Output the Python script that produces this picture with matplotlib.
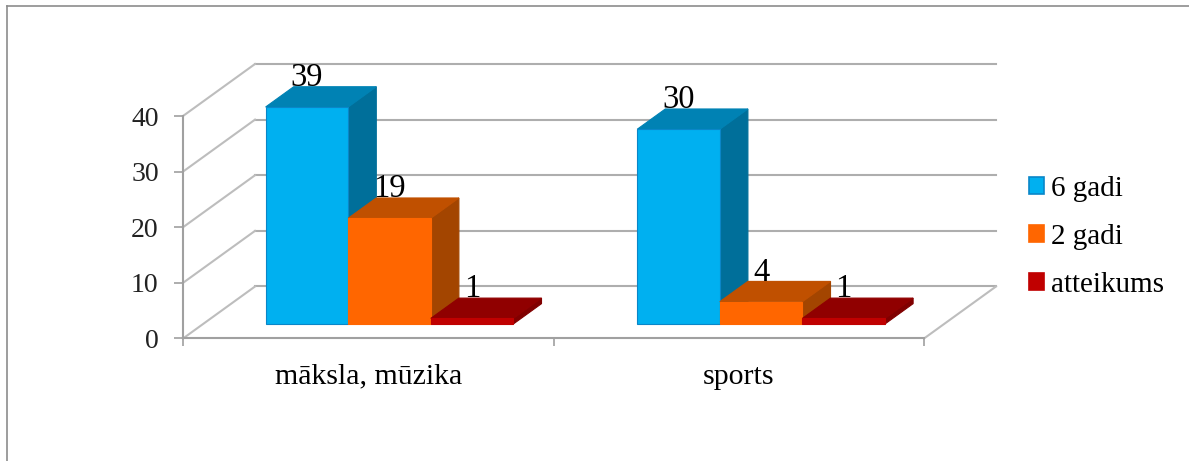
import matplotlib
matplotlib.use("Agg")
import matplotlib.pyplot as plt
from matplotlib.lines import Line2D
from matplotlib.patches import Patch

categories = ['māksla, mūzika', 'sports']
series_names = ['6 gadi', '2 gadi', 'atteikums']
# bar heights as drawn; the sports bar of 6 gadi is taller than its label says
vals_6 = [39, 35]
vals_2 = [19, 4]
vals_a = [1, 1]
labels_6 = ['39', '30']
labels_2 = ['19', '4']
labels_a = ['1', '1']
y_ticks = [0, 10, 20, 30, 40]

# front, top, side, edge
col_6 = ['#00B0F0', '#0082B4', '#006F9A', '#0A86C8']
col_2 = ['#FF6600', '#C05000', '#A34500', '#FF6600']
col_a = ['#C00000', '#900000', '#800000', '#C00000']

W, H = 1189, 461
plt.rcParams['font.family'] = ['Liberation Serif', 'DejaVu Serif']
fig = plt.figure(figsize=(W / 100, H / 100), dpi=100)

# axes box = front plane of the fake 3d chart, in pixels
x0, x1, y0, y40 = 183, 924, 338.5, 116
ax = fig.add_axes([x0 / W, 1 - y0 / H, (x1 - x0) / W, (y0 - y40) / H])
ax.set_xlim(0, 2)
ax.set_ylim(0, 40)

# full depth of the box, in data units
dx = 72 / ((x1 - x0) / 2)
dy = 52 / ((y0 - y40) / 40)


def proj(x, y, d):
    return x + d * dx, y + d * dy


def poly(pts, color, edge=None, z=3):
    xs = [p[0] for p in pts]
    ys = [p[1] for p in pts]
    ax.fill(xs, ys, facecolor=color, edgecolor=edge if edge else color,
            lw=0.8, clip_on=False, zorder=z)


grid_c = '#AEAEAE'
for t in y_ticks:
    bx, by = proj(0, t, 1)
    ex, ey = proj(2, t, 1)
    ax.plot([bx, ex], [by, ey], color=grid_c, lw=1.5, clip_on=False, zorder=1)
    ax.plot([0, bx], [t, by], color='#BDBDBD', lw=1.5, clip_on=False, zorder=1)
ax.plot([2, proj(2, 0, 1)[0]], [0, proj(2, 0, 1)[1]], color='#BDBDBD', lw=1.5, clip_on=False, zorder=1)

bar_w = 82.6 / ((x1 - x0) / 2)
d_front = 0.28
d_bar = 0.39
cat_step = 1.003
all_vals = [vals_6, vals_2, vals_a]
all_labels = [labels_6, labels_2, labels_a]
all_cols = [col_6, col_2, col_a]

for c in range(len(categories)):
    left = 0.503 + c * cat_step - 1.5 * bar_w
    for s in range(3):
        v = all_vals[s][c]
        col = all_cols[s]
        xa = left + s * bar_w
        xb = xa + bar_w
        d1 = d_front
        d2 = d_front + d_bar
        z = 3 + s * 0.1
        poly([proj(xb, 0, d1), proj(xb, 0, d2), proj(xb, v, d2), proj(xb, v, d1)], col[2], z=z)
        poly([proj(xa, v, d1), proj(xb, v, d1), proj(xb, v, d2), proj(xa, v, d2)], col[1], z=z)
        poly([proj(xa, 0, d1), proj(xb, 0, d1), proj(xb, v, d1), proj(xa, v, d1)], col[0], col[3], z=z)
        lx, ly = proj((xa + xb) / 2, v, d1)
        ax.annotate(all_labels[s][c], (lx, ly), xytext=(0, 21), textcoords='offset points',
                    ha='center', va='center', fontsize=23.5, color='black', zorder=5,
                    annotation_clip=False)

for sp in ['top', 'right']:
    ax.spines[sp].set_visible(False)
for sp in ['left', 'bottom']:
    ax.spines[sp].set_color('#A0A0A0')
    ax.spines[sp].set_linewidth(1.5)
ax.patch.set_alpha(0)

ax.set_yticks(y_ticks)
ax.tick_params(axis='y', length=6.5, width=1.2, color='#A0A0A0', pad=11, labelsize=20, labelcolor='#222222')
for lab in ax.get_yticklabels():
    lab.set_verticalalignment('center_baseline')
ax.set_xticks([0, 1, 2])
ax.set_xticklabels([])
ax.tick_params(axis='x', which='major', length=6, width=1.2, color='#A0A0A0')
ax.set_xticks([0.5, 1.5], minor=True)
ax.set_xticklabels(categories, minor=True)
ax.tick_params(axis='x', which='minor', length=0, pad=18, labelsize=21.5, labelcolor='black')

handles = [Patch(facecolor=col_6[0], edgecolor=col_6[3], lw=1.2),
           Patch(facecolor=col_2[0], edgecolor=col_2[0], lw=1.2),
           Patch(facecolor=col_a[0], edgecolor=col_a[0], lw=1.2)]
fig.legend(handles, series_names, loc='center left', bbox_to_anchor=(1029 / W, 1 - 237 / H),
           frameon=False, fontsize=21, borderpad=0, borderaxespad=0,
           handlelength=0.52, handleheight=0.52, handletextpad=0.24, labelspacing=0.76)

# outer frame, only top and left show
fig.add_artist(Line2D([7 / W, 7 / W], [0, 1 - 6.5 / H], color='#8C8C8C', lw=1.2))
fig.add_artist(Line2D([7 / W, 1], [1 - 6.5 / H, 1 - 6.5 / H], color='#8C8C8C', lw=1.2))

fig.savefig('out.png', dpi=100)
